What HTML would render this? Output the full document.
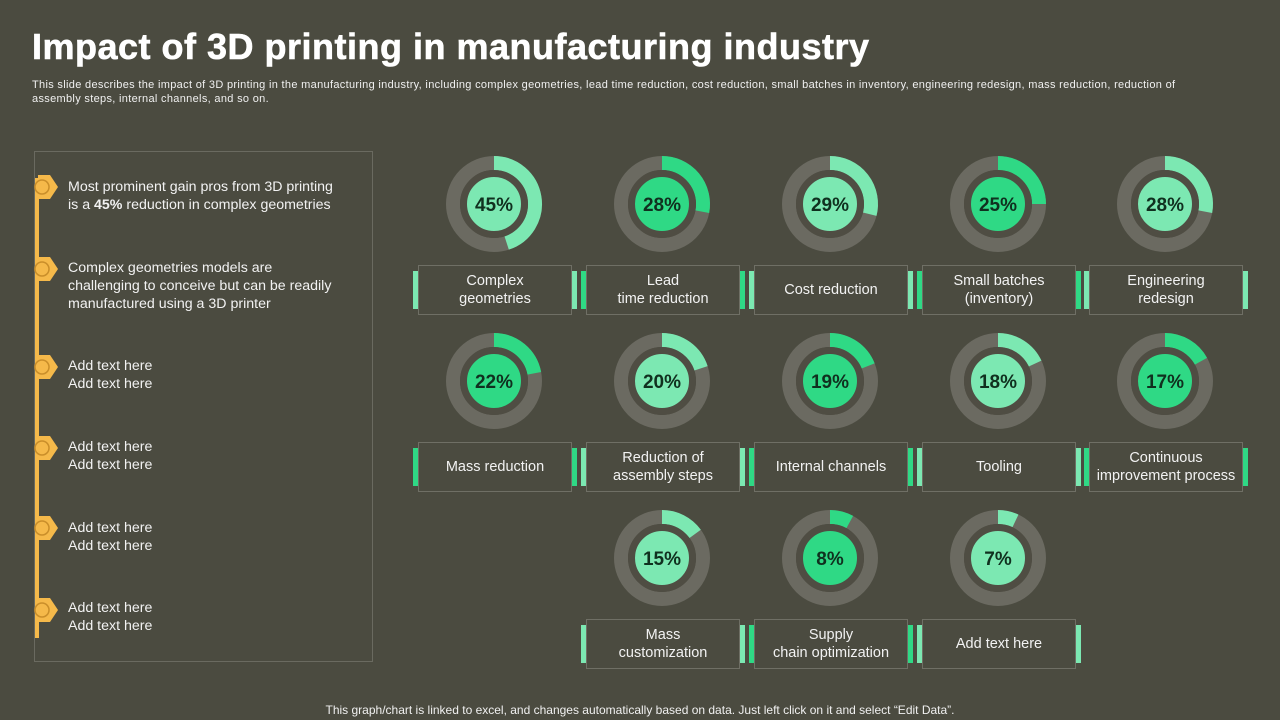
<!DOCTYPE html>
<html><head><meta charset="utf-8"><style>
body{margin:0;width:1280px;height:720px;background:#4b4b40;font-family:"Liberation Sans",sans-serif;color:#fff;overflow:hidden;position:relative}
.abs{position:absolute}
h1{position:absolute;left:32px;top:26px;margin:0;font-size:36px;font-weight:bold;color:#fff;letter-spacing:0.5px;-webkit-text-stroke:0.6px #fff}
.sub{left:32px;top:78px;width:1245px;font-size:11px;line-height:14px;color:#f0f0f0;letter-spacing:0.32px;white-space:nowrap}
.panel{left:34px;top:151px;width:337px;height:509px;border:1px solid #6a6a60}
.tl{left:35px;top:178px;width:4px;height:460px;background:#f5b94a}
.item{left:68px;font-size:14.2px;line-height:18px;color:#f2f2f2}
.lbl{position:absolute;border:1px solid #6f6f65;display:flex;align-items:center;justify-content:center;text-align:center;font-size:14.5px;line-height:18px;color:#f2f2f2}
.bar{position:absolute;width:5px}
.foot{left:0;width:1280px;top:703px;text-align:center;font-size:12px;color:#f0f0f0}
</style></head><body>
<h1>Impact of 3D printing in manufacturing industry</h1>
<div class="abs sub">This slide describes the impact of 3D printing in the manufacturing industry, including complex geometries, lead time reduction, cost reduction, small batches in inventory, engineering redesign, mass reduction, reduction of<br>assembly steps, internal channels, and so on.</div>
<div class="abs panel"></div>
<div class="abs tl"></div>
<svg class="abs" style="left:0;top:0" width="80" height="720" id="markers"></svg>
<div class="abs item" style="top:178px">Most prominent gain pros from 3D printing<br>is a <b>45%</b> reduction in complex geometries</div>
<div class="abs item" style="top:259px">Complex geometries models are<br>challenging to conceive but can be readily<br>manufactured using a 3D printer</div>
<div class="abs item" style="top:357px">Add text here<br>Add text here</div>
<div class="abs item" style="top:438px">Add text here<br>Add text here</div>
<div class="abs item" style="top:519px">Add text here<br>Add text here</div>
<div class="abs item" style="top:599px">Add text here<br>Add text here</div>
<svg class="abs" style="left:0;top:0" width="1280" height="720" id="donuts"></svg>
<div id="labels"></div>
<div class="abs foot">This graph/chart is linked to excel, and changes automatically based on data. Just left click on it and select “Edit Data”.</div>
<script>
const categories=["Complex<br>geometries","Lead<br>time reduction","Cost reduction","Small batches<br>(inventory)","Engineering<br>redesign","Mass reduction","Reduction of<br>assembly steps","Internal channels","Tooling","Continuous<br>improvement process","Mass<br>customization","Supply<br>chain optimization","Add text here"];
const values=[45,28,29,25,28,22,20,19,18,17,15,8,7];
const markerY=[187,269,367,448,528,610];
const NS="http://www.w3.org/2000/svg";
const mk=document.getElementById('markers');
markerY.forEach(y=>{
 const p=document.createElementNS(NS,'path');
 p.setAttribute('d',`M38 ${y-12} L50 ${y-12} L58 ${y} L50 ${y+12} L38 ${y+12} Z`);
 p.setAttribute('fill','#f5b94a');
 
 
 mk.appendChild(p);
 const c=document.createElementNS(NS,'circle');
 c.setAttribute('cx',42);c.setAttribute('cy',y);c.setAttribute('r',7);
 c.setAttribute('fill','#f5b94a');c.setAttribute('stroke','#c98e2a');c.setAttribute('stroke-width','1.5');
 
 
 mk.appendChild(c);
});
const LIGHT='#7ce8b2',BRIGHT='#2fd985';
const svg=document.getElementById('donuts');
const lab=document.getElementById('labels');
const colX=[494,662,830,998,1165];
values.forEach((v,i)=>{
 let row=Math.floor(i/5),col=i%5;
 if(row===2)col+=1;
 const cx=colX[col],cy=204+row*177;
 const color=(i%2===0)?LIGHT:BRIGHT;
 const r=41,w=14;
 const bg=document.createElementNS(NS,'circle');
 bg.setAttribute('cx',cx);bg.setAttribute('cy',cy);bg.setAttribute('r',r);
 bg.setAttribute('fill','none');bg.setAttribute('stroke','#6b6a61');bg.setAttribute('stroke-width',w);
 
 
 svg.appendChild(bg);
 const a=v/100*2*Math.PI;
 const x1=cx,y1=cy-r,x2=cx+r*Math.sin(a),y2=cy-r*Math.cos(a);
 const arc=document.createElementNS(NS,'path');
 arc.setAttribute('d',`M${x1} ${y1} A${r} ${r} 0 ${v>50?1:0} 1 ${x2} ${y2}`);
 arc.setAttribute('fill','none');arc.setAttribute('stroke',color);arc.setAttribute('stroke-width',w);
 
 
 svg.appendChild(arc);
 const ring=document.createElementNS(NS,'circle');
 ring.setAttribute('cx',cx);ring.setAttribute('cy',cy);ring.setAttribute('r',30.5);
 ring.setAttribute('fill',color);ring.setAttribute('stroke','#4f4d43');ring.setAttribute('stroke-width',7);
 
 
 svg.appendChild(ring);
 const t=document.createElementNS(NS,'text');
 t.setAttribute('x',cx);t.setAttribute('y',cy+7);t.setAttribute('text-anchor','middle');
 t.setAttribute('font-size','19');t.setAttribute('font-weight','bold');t.setAttribute('fill','#10301f');
 t.setAttribute('font-family','Liberation Sans, sans-serif');
 t.textContent=v+'%';
 
 
 svg.appendChild(t);
 const top=265+row*177;
 const d=document.createElement('div');
 d.className='lbl';
 d.style.left=(cx-76)+'px';d.style.top=top+'px';d.style.width='152px';d.style.height='48px';
 d.innerHTML=categories[i];
 
 
 lab.appendChild(d);
 [cx-81,cx+78].forEach(x=>{
  const b=document.createElement('div');
  b.className='bar';b.style.left=x+'px';b.style.top=(top+6)+'px';b.style.height='38px';b.style.background=color;
  
  
  lab.appendChild(b);
 });
});
</script>
</body></html>
